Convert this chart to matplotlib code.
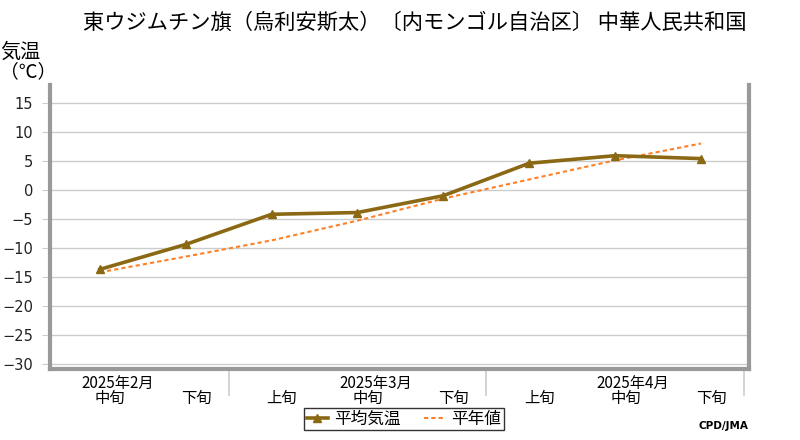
import matplotlib
matplotlib.use("Agg")
import matplotlib.pyplot as plt
from matplotlib.lines import Line2D

plt.rcParams['font.family'] = ['Noto Sans CJK JP', 'DejaVu Sans']

title = "東ウジムチン旗（烏利安斯太）〔内モンゴル自治区〕 中華人民共和国"
periods = ["中旬", "下旬", "上旬", "中旬", "下旬", "上旬", "中旬", "下旬"]
months = ["2025年2月", "2025年3月", "2025年4月"]
month_pos = [0, 3, 6]
avg_temp = [-13.7, -9.4, -4.2, -3.9, -1.0, 4.6, 5.9, 5.4]
normal = [-14.2, -11.5, -8.7, -5.3, -1.5, 1.8, 5.1, 8.0]
yticks = [15, 10, 5, 0, -5, -10, -15, -20, -25, -30]

fig = plt.figure(figsize=(8, 4.4), dpi=100)
ax = fig.add_axes([0.0625, 0.161, 0.8738, 0.646])

x = list(range(len(periods)))
ax.plot(x, normal, color='#FF7F27', lw=1.5, ls=(0, (2, 1.5)), zorder=3, label='平年値')
ax.plot(x, avg_temp, color='#8B6914', lw=2.6, marker='^', ms=6, zorder=4, label='平均気温')

ax.set_xlim(-0.58, 7.56)
ax.set_ylim(-30.9, 18.1)
ax.set_yticks(yticks)
ax.set_yticklabels([f"{v}" if v >= 0 else f"−{-v}" for v in yticks], fontsize=10.5,
                   family=['DejaVu Sans'])
ax.grid(axis='y', color='#cccccc', lw=1)
ax.tick_params(axis='y', length=6, color='#cccccc', pad=6, labelcolor='#222222')
ax.set_axisbelow(True)

ax.set_xticks([i + 0.12 for i in x])
ax.set_xticklabels(periods, fontsize=11)
ax.tick_params(axis='x', length=0, pad=15)

for s in ['left', 'bottom', 'right']:
    ax.spines[s].set_color('#999999')
    ax.spines[s].set_linewidth(3)
ax.spines['top'].set_visible(False)

# month labels and separators
for m, p in zip(months, month_pos):
    ax.annotate(m, xy=(p + 0.21, 0), xycoords=('data', 'axes fraction'),
                xytext=(0, -10.5), textcoords='offset points', ha='center', va='center',
                fontsize=11)
for sep in [1.5, 4.5, 7.5]:
    ax.add_line(Line2D([sep, sep], [0, -0.09], transform=ax.get_xaxis_transform(),
                       color='#cccccc', lw=1.2, clip_on=False))

fig.text(0.519, 0.948, title, ha='center', va='center', fontsize=15.3)
fig.text(0.0, 0.882, "気温", ha='left', va='center', fontsize=14.5)
fig.text(0.0, 0.836, "（℃）", ha='left', va='center', fontsize=13.5)
fig.text(0.935, 0.032, "CPD/JMA", ha='right', va='center', fontsize=7.5,
         fontweight='bold', family=['DejaVu Sans'])

h, l = ax.get_legend_handles_labels()
leg = fig.legend(h[::-1], l[::-1], loc='center', bbox_to_anchor=(0.505, 0.047), ncol=2,
                 frameon=True, fancybox=False, fontsize=12, handlelength=1.3,
                 borderpad=0.15, columnspacing=1.4, handletextpad=0.35, borderaxespad=0)
leg.get_frame().set_edgecolor('black')
leg.get_frame().set_linewidth(1)

fig.savefig("out.png", dpi=100)
